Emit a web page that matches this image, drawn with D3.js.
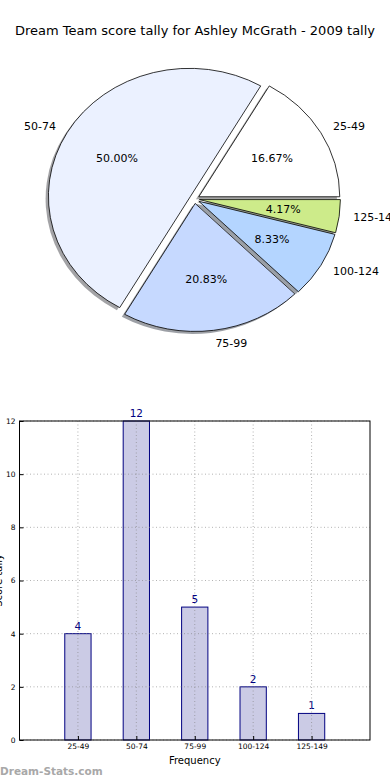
<!DOCTYPE html>
<html><head><meta charset="utf-8">
<script src="https://cdn.jsdelivr.net/npm/d3@7/dist/d3.min.js"></script>
<style>body{margin:0;background:#fff}svg{display:block;font-family:"DejaVu Sans",sans-serif}</style>
</head><body>
<script>
const title = "Dream Team score tally for Ashley McGrath - 2009 tally";
const categories = ["25-49","50-74","75-99","100-124","125-149"];
const counts = [4,12,5,2,1];
const pieColors = ["#ffffff","#ebf1ff","#c6d9ff","#b4d5ff","#cdeb8a"];
const yTicks = [0,2,4,6,8,10,12];
const xLabel = "Frequency";
const yLabel = "Score tally";
const watermark = "Dream-Stats.com";

const W=390,H=780;
const svg=d3.select("body").append("svg").attr("width",W).attr("height",H);

svg.append("text").attr("x",195).attr("y",35).attr("text-anchor","middle")
  .attr("font-size",13).attr("fill","#000").text(title);

// ---- Pie ----
const cx=194.5, cy=199, rx=141, ry=128, ex=0.035;
const pie=d3.pie().sort(null).startAngle(Math.PI/2).endAngle(Math.PI/2-2*Math.PI);
const arcs=pie(counts);
const arc=d3.arc().innerRadius(0).outerRadius(1);
const total=d3.sum(counts);
const g=svg.append("g").attr("transform",`translate(${cx},${cy}) scale(${rx},${ry})`);
function shade(c){const k=d3.rgb(c);return d3.rgb(k.r*0.3,k.g*0.3,k.b*0.3).toString();}
arcs.forEach((a,i)=>{
  const m=(a.startAngle+a.endAngle)/2;
  const dx=ex*Math.sin(m), dy=-ex*Math.cos(m);
  g.append("path").attr("d",arc(a)).attr("transform",`translate(${dx-0.02},${dy+0.02})`)
   .attr("fill",shade(pieColors[i])).attr("fill-opacity",0.5);
});
arcs.forEach((a,i)=>{
  const m=(a.startAngle+a.endAngle)/2;
  const dx=ex*Math.sin(m), dy=-ex*Math.cos(m);
  g.append("path").attr("d",arc(a)).attr("transform",`translate(${dx},${dy})`)
   .attr("fill",pieColors[i]).attr("stroke","#000").attr("stroke-width",0.8)
   .attr("vector-effect","non-scaling-stroke").attr("stroke-linejoin","round");
});
arcs.forEach((a,i)=>{
  const m=(a.startAngle+a.endAngle)/2;
  const s=Math.sin(m), c=Math.cos(m);
  svg.append("text").attr("x",cx+rx*(ex+1.1)*s).attr("y",cy-ry*(ex+1.1)*c)
    .attr("text-anchor",s>0?"start":"end").attr("dominant-baseline","central")
    .attr("font-size",11).text(categories[i]);
  svg.append("text").attr("x",cx+rx*(ex+0.6)*s).attr("y",cy-ry*(ex+0.6)*c)
    .attr("text-anchor","middle").attr("dominant-baseline","central")
    .attr("font-size",11).text((counts[i]/total*100).toFixed(2)+"%");
});

// ---- Bar ----
const L=19.5,R=370,T=421,B=740;
const x=d3.scaleLinear().domain([-1,5]).range([L,R]);
const y=d3.scaleLinear().domain([0,12]).range([B,T]);
const bw=0.45;
const bg=svg.append("g");
counts.forEach((v,i)=>{
  bg.append("rect").attr("x",x(i-bw/2)).attr("y",y(v)).attr("width",x(bw)-x(0)).attr("height",y(0)-y(v))
    .attr("fill","#cbcbe5").attr("stroke","#000080").attr("stroke-width",1);
  bg.append("text").attr("x",x(i)).attr("y",y(v)-4).attr("text-anchor","middle")
    .attr("font-size",10.5).attr("fill","#000080").text(v);
});
// grid
yTicks.forEach(t=>{
  bg.append("line").attr("x1",L).attr("x2",R).attr("y1",y(t)).attr("y2",y(t))
    .attr("stroke","#808080").attr("stroke-opacity",0.6).attr("stroke-dasharray","1,2.5");
});
categories.forEach((c,i)=>{
  bg.append("line").attr("x1",x(i)).attr("x2",x(i)).attr("y1",T).attr("y2",B)
    .attr("stroke","#808080").attr("stroke-opacity",0.6).attr("stroke-dasharray","1,2.5");
});
// axes via d3
const yAxis=d3.axisLeft(y).tickValues(yTicks).tickSize(-4).tickPadding(4);
const ya=svg.append("g").attr("transform",`translate(${L},0)`).call(yAxis);
ya.select(".domain").remove();
ya.selectAll("text").attr("font-size",7.5).attr("font-family","DejaVu Sans");
const xAxis=d3.axisBottom(x).tickValues(d3.range(categories.length)).tickFormat(i=>categories[i]).tickSize(-4).tickPadding(4);
const xa=svg.append("g").attr("transform",`translate(0,${B})`).call(xAxis);
xa.select(".domain").remove();
xa.selectAll("text").attr("font-size",7.5).attr("font-family","DejaVu Sans");
svg.append("rect").attr("x",L).attr("y",T).attr("width",R-L).attr("height",B-T)
  .attr("fill","none").attr("stroke","#000").attr("stroke-width",1);

svg.append("text").attr("x",(L+R)/2).attr("y",764).attr("text-anchor","middle")
  .attr("font-size",10).text(xLabel);
svg.append("text").attr("transform",`translate(2,${(T+B)/2}) rotate(-90)`).attr("text-anchor","middle")
  .attr("font-size",10).text(yLabel);
svg.append("text").attr("x",0).attr("y",775).attr("font-size",10.5).attr("font-weight","bold")
  .attr("fill","#a8a8a8").text(watermark);
</script>
</body></html>
